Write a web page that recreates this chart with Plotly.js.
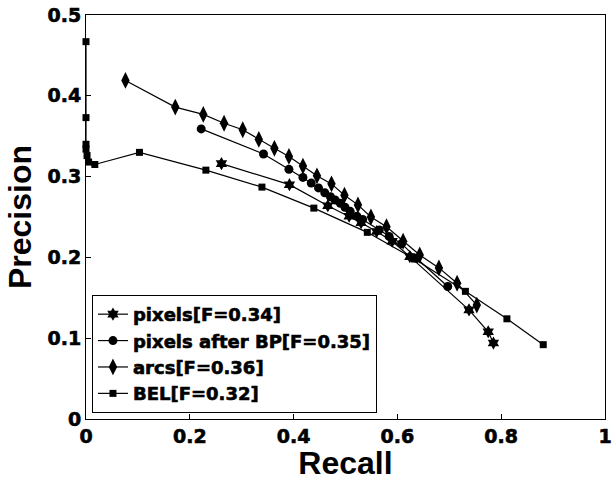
<!DOCTYPE html>
<html>
<head>
<meta charset="utf-8">
<script src="https://cdn.plot.ly/plotly-3.0.1.min.js"></script>
<style>
html,body{margin:0;padding:0;background:#fff;}
#chart{width:613px;height:481px;}
#chart text.legendtext, #chart g.xtick text, #chart g.ytick text { stroke:#000 !important; stroke-width:0.6px !important; }
</style>
</head>
<body>
<div id="chart"></div>
<script>
// Series: pixels
const pixelsRecall    = [0.261, 0.392, 0.466, 0.507, 0.530, 0.560, 0.590, 0.624, 0.738, 0.775, 0.785];
const pixelsPrecision = [0.316, 0.290, 0.264, 0.251, 0.243, 0.232, 0.220, 0.201, 0.135, 0.108, 0.094];
// Series: pixels after BP
const bpRecall    = [0.222, 0.342, 0.391, 0.418, 0.434, 0.448, 0.460, 0.471, 0.480, 0.490, 0.499, 0.509, 0.522, 0.533, 0.565, 0.584, 0.608, 0.637, 0.697];
const bpPrecision = [0.359, 0.328, 0.309, 0.299, 0.292, 0.286, 0.280, 0.275, 0.271, 0.267, 0.262, 0.257, 0.251, 0.247, 0.234, 0.226, 0.217, 0.199, 0.164];
// Series: arcs
const arcsRecall    = [0.076, 0.172, 0.226, 0.266, 0.302, 0.333, 0.363, 0.391, 0.418, 0.445, 0.473, 0.498, 0.524, 0.549, 0.579, 0.611, 0.643, 0.680, 0.715, 0.753];
const arcsPrecision = [0.419, 0.386, 0.377, 0.366, 0.358, 0.346, 0.335, 0.325, 0.313, 0.301, 0.291, 0.277, 0.265, 0.250, 0.238, 0.220, 0.203, 0.187, 0.168, 0.141];
// Series: BEL
const belRecall    = [0.000, 0.000, 0.000, 0.000, 0.002, 0.005, 0.017, 0.103, 0.231, 0.339, 0.439, 0.542, 0.633, 0.731, 0.811, 0.881];
const belPrecision = [0.467, 0.373, 0.340, 0.334, 0.326, 0.318, 0.315, 0.330, 0.308, 0.287, 0.261, 0.231, 0.198, 0.158, 0.124, 0.092];

const seriesNames = ["pixels[F=0.34]", "pixels after BP[F=0.35]", "arcs[F=0.36]", "BEL[F=0.32]"];
const xTicks = [0, 0.2, 0.4, 0.6, 0.8, 1];
const yTicks = [0, 0.1, 0.2, 0.3, 0.4, 0.5];

const FONT = "Liberation Sans, Arial, Helvetica, sans-serif";
const FONT2 = "DejaVu Sans, Liberation Sans, sans-serif";
function tr(x, y, name, symbol, size) {
  return {
    x: x, y: y, name: "<b>" + name + "</b>", type: "scatter", mode: "lines+markers",
    line: {color: "#000", width: 1.2},
    marker: {symbol: symbol, size: size, color: "#000", line: {width: 0}},
    cliponaxis: false
  };
}
const data = [
  tr(pixelsRecall, pixelsPrecision, seriesNames[0], "hexagram", 10),
  tr(bpRecall, bpPrecision, seriesNames[1], "circle", 9),
  tr(arcsRecall, arcsPrecision, seriesNames[2], "diamond-tall", 12),
  tr(belRecall, belPrecision, seriesNames[3], "square", 7)
];
const axisCommon = {
  showline: true, linecolor: "#000", linewidth: 1, mirror: true,
  ticks: "inside", ticklen: 5, tickcolor: "#000", tickwidth: 1,
  showgrid: false, zeroline: false, ticklabeloverflow: "allow",
  tickfont: {family: FONT2, size: 19, color: "#000", weight: 700}
};
const layout = {
  width: 613, height: 481,
  margin: {l: 86, r: 8, t: 15, b: 62},
  paper_bgcolor: "#fff", plot_bgcolor: "#fff",
  showlegend: true,
  xaxis: Object.assign({}, axisCommon, {
    range: [0, 1], tickvals: xTicks, ticktext: xTicks.map(v => "<b>" + v + "</b>"),
    title: {text: "<b>Recall</b>", font: {family: FONT, size: 32, color: "#000"}, standoff: 2}
  }),
  yaxis: Object.assign({}, axisCommon, {
    range: [0, 0.5], tickvals: yTicks, ticktext: yTicks.map(v => "<b>" + v + "</b>"),
    title: {text: "<b>Precision</b>", font: {family: FONT, size: 32, color: "#000"}, standoff: 6}
  }),
  legend: {
    x: 0.0115, y: 0.307, xanchor: "left", yanchor: "top",
    bgcolor: "#fff", bordercolor: "#000", borderwidth: 1,
    font: {family: FONT2, size: 18, color: "#000", weight: 700},
    itemwidth: 30, tracegroupgap: 0
  }
};
Plotly.newPlot("chart", data, layout, {displayModeBar: false, staticPlot: true});
</script>
</body>
</html>
